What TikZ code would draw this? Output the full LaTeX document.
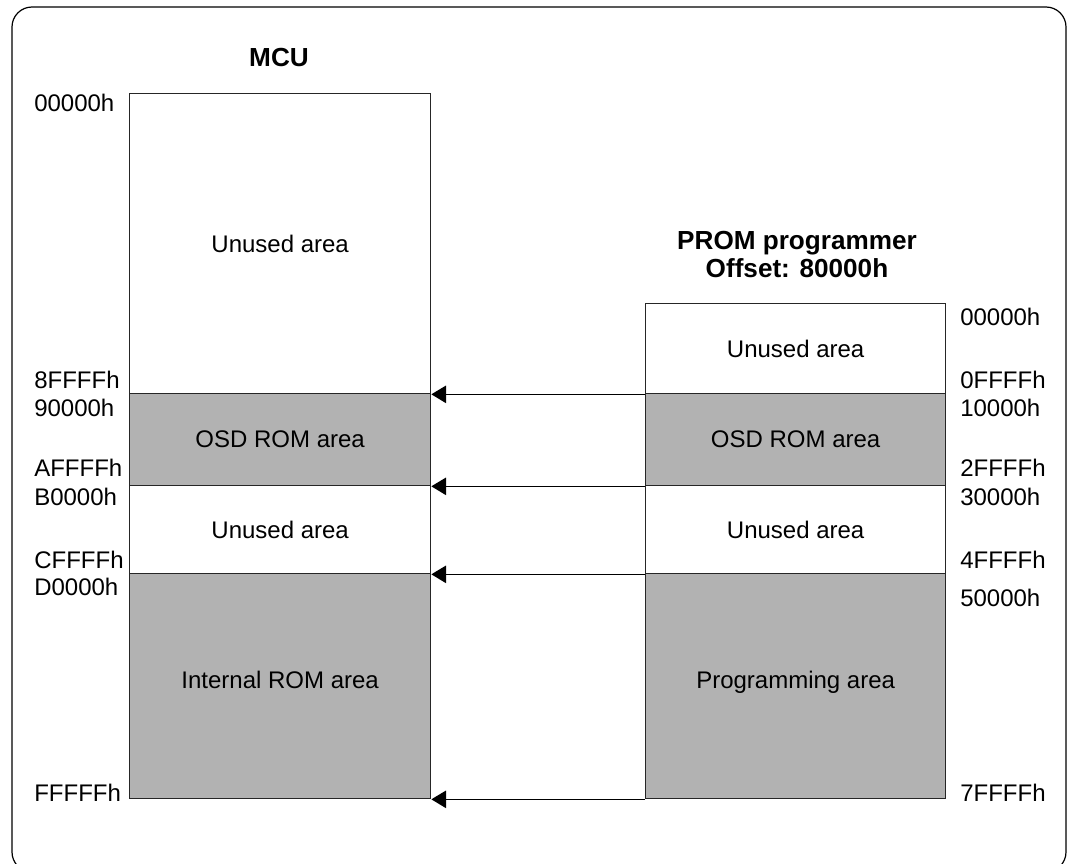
\documentclass[tikz,border=0pt]{standalone}
\usepackage{fontspec}
\setmainfont{Liberation Sans}
\usetikzlibrary{arrows.meta}
\begin{document}
\begin{tikzpicture}[x=0.75pt,y=-0.75pt,
  every node/.style={font=\fontsize{18}{21}\selectfont, inner sep=0pt},
  blk/.style={draw=black!85, line width=1pt, anchor=north west, align=center},
  unused/.style={blk, fill=white},
  used/.style={blk, fill=black!30},
  addr/.style={anchor=west},
  ttl/.style={font=\fontsize{19.6}{21}\selectfont\bfseries, align=center},
  arr/.style={draw=black, line width=1pt, -{Triangle[length=11pt,width=13pt]}}]
\useasboundingbox (0,0) rectangle (1068,864);
\draw[line width=0.9pt, rounded corners=15pt] (12,7) rectangle (1066,872);
% titles
\node[ttl] (tmcu) at (279,58) {MCU};
\node[ttl] (tprom) at (797,254) {PROM programmer\\Offset: 80000h};
% MCU blocks
\node[unused, minimum width=225.75pt, minimum height=225pt] (m1) at (129,93) {Unused area};
\node[used, minimum width=225.75pt, minimum height=69pt] (m2) at (129,393) {OSD ROM area};
\node[unused, minimum width=225.75pt, minimum height=66pt] (m3) at (129,485) {Unused area};
\node[used, minimum width=225.75pt, minimum height=168.75pt] (m4) at (129,573) {Internal ROM area\\[-12pt]};
% PROM blocks
\node[unused, minimum width=225pt, minimum height=67.5pt] (p1) at (645,303) {Unused area};
\node[used, minimum width=225pt, minimum height=69pt] (p2) at (645,393) {OSD ROM area};
\node[unused, minimum width=225pt, minimum height=66pt] (p3) at (645,485) {Unused area};
\node[used, minimum width=225pt, minimum height=168.75pt] (p4) at (645,573) {Programming area\\[-12pt]};
% arrows
\draw[arr] (p1.south west) -- (m1.south east);
\draw[arr] (p2.south west) -- (m2.south east);
\draw[arr] (p3.south west) -- (m3.south east);
\draw[arr] (p4.south west) -- (m4.south east);
% left addresses
\node[addr] (la0) at (34,103) {00000h};
\node[addr] (la1) at (34,380) {8FFFFh};
\node[addr] (la2) at (34,408) {90000h};
\node[addr] (la3) at (34,468) {AFFFFh};
\node[addr] (la4) at (34,497) {B0000h};
\node[addr] (la5) at (34,560) {CFFFFh};
\node[addr] (la6) at (34,587) {D0000h};
\node[addr] (la7) at (34,793) {FFFFFh};
% right addresses
\node[addr] (ra0) at (960,317) {00000h};
\node[addr] (ra1) at (960,380) {0FFFFh};
\node[addr] (ra2) at (960,408) {10000h};
\node[addr] (ra3) at (960,468) {2FFFFh};
\node[addr] (ra4) at (960,497) {30000h};
\node[addr] (ra5) at (960,560) {4FFFFh};
\node[addr] (ra6) at (960,598) {50000h};
\node[addr] (ra7) at (960,793) {7FFFFh};
\end{tikzpicture}
\end{document}
